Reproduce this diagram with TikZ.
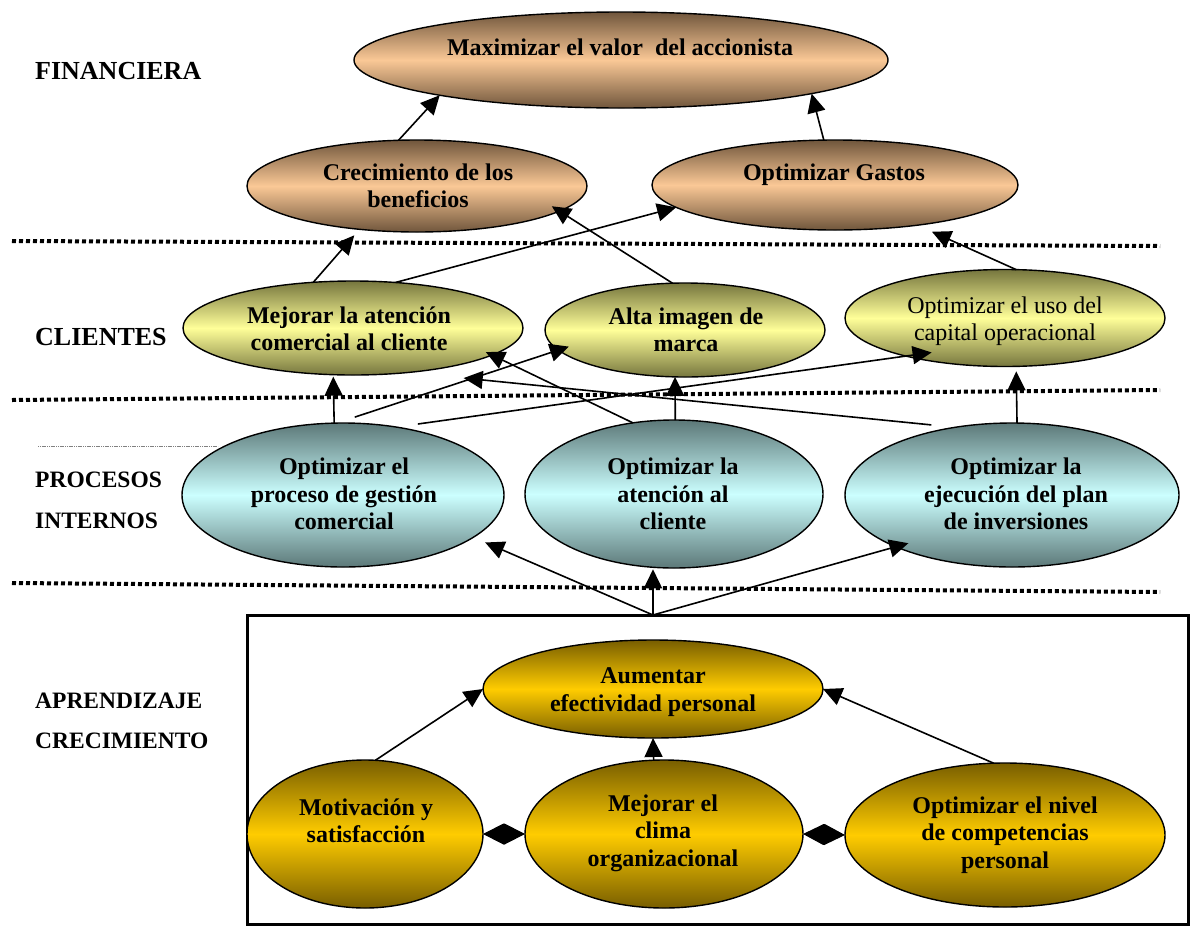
\documentclass[tikz,border=0pt]{standalone}
\usepackage{fontspec}
\setmainfont{Liberation Serif}
\usetikzlibrary{shapes.geometric,arrows.meta}

\definecolor{finD}{RGB}{112,86,60}
\definecolor{finL}{RGB}{250,200,150}
\definecolor{cliD}{RGB}{118,118,62}
\definecolor{cliL}{RGB}{255,255,153}
\definecolor{proD}{RGB}{92,120,120}
\definecolor{proL}{RGB}{204,255,255}
\definecolor{aprD}{RGB}{120,94,0}
\definecolor{aprL}{RGB}{255,204,0}

\begin{document}
\begin{tikzpicture}[x=1pt,y=-1pt,
  oval/.style={ellipse, draw=black, line width=1.4pt, inner sep=0pt, outer sep=0pt},
  fin/.style={oval, top color=finD, bottom color=finD, middle color=finL},
  cli/.style={oval, top color=cliD, bottom color=cliD, middle color=cliL},
  pro/.style={oval, top color=proD, bottom color=proD, middle color=proL},
  apr/.style={oval, top color=aprD, bottom color=aprD, middle color=aprL},
  txt/.style={font=\fontsize{24}{27.5}\selectfont\bfseries, align=center, inner sep=0pt},
  txtreg/.style={font=\fontsize{24}{27.5}\selectfont, align=center, inner sep=0pt},
  band/.style={font=\fontsize{23.5}{28}\selectfont\bfseries, anchor=base west, inner sep=0pt},
  bandbig/.style={band, font=\fontsize{26}{30}\selectfont\bfseries},
  sep/.style={line width=4pt, dash pattern=on 4pt off 3pt},
  link/.style={line width=1.6pt, -{Triangle[length=19pt,width=18pt]}},
  tie/.style={line width=1.6pt, {Diamond[length=41pt,width=21pt]}-{Diamond[length=41pt,width=21pt]}},
]
\useasboundingbox (0,0) rectangle (1192,927);

% perspective separators
\draw[sep] (12,241) -- (1160,246);
\draw[sep] (12,400) -- (1160,390);
\draw[sep] (12,583) -- (1160,592);
\draw[gray, line width=1pt, dash pattern=on 1.2pt off 0.6pt] (38,446) -- (218,446);

% perspective names
\node[bandbig] (lfin) at (35,79) {FINANCIERA};
\node[bandbig] (lcli) at (35,345) {CLIENTES};
\node[band] (lpro1) at (35,487) {PROCESOS};
\node[band] (lpro2) at (35,528) {INTERNOS};
\node[band] (lapr1) at (35,708) {APRENDIZAJE};
\node[band] (lapr2) at (35,748) {CRECIMIENTO};

% learning frame
\node[draw, line width=3pt, inner sep=0pt, outer sep=0pt,
      minimum width=941pt, minimum height=309pt] (box) at (717.5,769.5) {};

% financial objectives
\node[fin, minimum width=534pt, minimum height=96pt] (E1) at (621,60) {};
\node[fin, minimum width=340pt, minimum height=92pt] (E2) at (417,186) {};
\node[fin, minimum width=366pt, minimum height=90pt] (E3) at (835,185) {};
% client objectives
\node[cli, minimum width=340pt, minimum height=94pt] (C1) at (353,328) {};
\node[cli, minimum width=280pt, minimum height=94pt] (C2) at (685,330) {};
\node[cli, minimum width=320pt, minimum height=97pt] (C3) at (1005,318) {};
% internal processes
\node[pro, minimum width=322pt, minimum height=144pt] (P1) at (343,495) {};
\node[pro, minimum width=298pt, minimum height=148pt] (P2) at (674,494) {};
\node[pro, minimum width=334pt, minimum height=144pt] (P3) at (1012,495) {};
% learning and growth
\node[apr, minimum width=340pt, minimum height=98pt] (A1) at (653,689) {};
\node[apr, minimum width=236pt, minimum height=148pt] (A2) at (365,834) {};
\node[apr, minimum width=278pt, minimum height=148pt] (A3) at (664,834) {};
\node[apr, minimum width=320pt, minimum height=144pt] (A4) at (1005,835) {};

% objective texts
\node[txt, anchor=base] (E1t) at (620,55) {Maximizar el valor\ \ del accionista};
\node[txt] (E2t) at (418,186) {Crecimiento de los\\beneficios};
\node[txt, anchor=base] (E3t) at (834,180) {Optimizar Gastos};
\node[txt] (C1t) at (349,329) {Mejorar la atención\\comercial al cliente};
\node[txt] (C2t) at (686,330) {Alta imagen de\\marca};
\node[txtreg] (C3t) at (1005,321) {Optimizar el uso del\\capital operacional};
\node[txt] (P1t) at (344,494) {Optimizar el\\proceso de gestión\\comercial};
\node[txt] (P2t) at (673,494) {Optimizar la\\atención al\\cliente};
\node[txt] (P3t) at (1016,494) {Optimizar la\\ejecución del plan\\de inversiones};
\node[txt] (A1t) at (653,692) {Aumentar\\efectividad personal};
\node[txt] (A2t) at (366,821) {Motivación y\\satisfacción};
\node[txt] (A3t) at (663,833) {Mejorar el\\clima\\organizacional};
\node[txt] (A4t) at (1005,835) {Optimizar el nivel\\de competencias\\personal};

\coordinate (hub) at (A1.center |- box.north);

% cause-effect links
\draw[link] (E2.112.4) -- (E1.-169.1);
\draw[link] (E3.104.9) -- (E1.-10.4);
\draw[link, shorten >=8pt] (C1.131.2) -- (E2.-143.9);
\draw[link] (C1.47.3) -- (E3.-172.8);
\draw[link, shorten >=-9pt] (C2.105.5) -- (E2.-10.95);
\draw[link, shorten >=16pt] (C3.77.1) -- (E3.-26.7);

\draw[link, shorten >=2pt] (P1.97.9) -- (C1.-113.2);
\draw[link, shorten <=19pt, shorten >=-11pt] (P1.95.6) -- (C2.-171.8);
\draw[link, shorten <=22pt, shorten >=-26pt] (P1.52.0) -- (C3.-159.5);
\draw[link, shorten >=-7pt] (P2.120.6) -- (C1.-11.64);
\draw[link] (P2.89.2) -- (C2.-102.1);
\draw[link, shorten <=24pt, shorten >=56pt] (P3.130.5) -- (C1.-39.2);
\draw[link, shorten >=5pt] (P3.86.8) -- (C3.-77.2);

\draw[link, shorten >=13pt] (hub) -- (P1.-18.4);
\draw[link, shorten >=2pt] (hub) -- (P2.-106);
\draw[link, shorten >=-13pt] (hub) -- (P3.-156.1);

\draw[link] (A2.82.3) -- (A1.west);
\draw[link] (A3.98.5) -- (A1.south);
\draw[link] (A4.99.5) -- (A1.east);
\draw[tie] (A2.east) -- (A3.west);
\draw[tie] (A3.east) -- (A4.west);
\end{tikzpicture}
\end{document}
